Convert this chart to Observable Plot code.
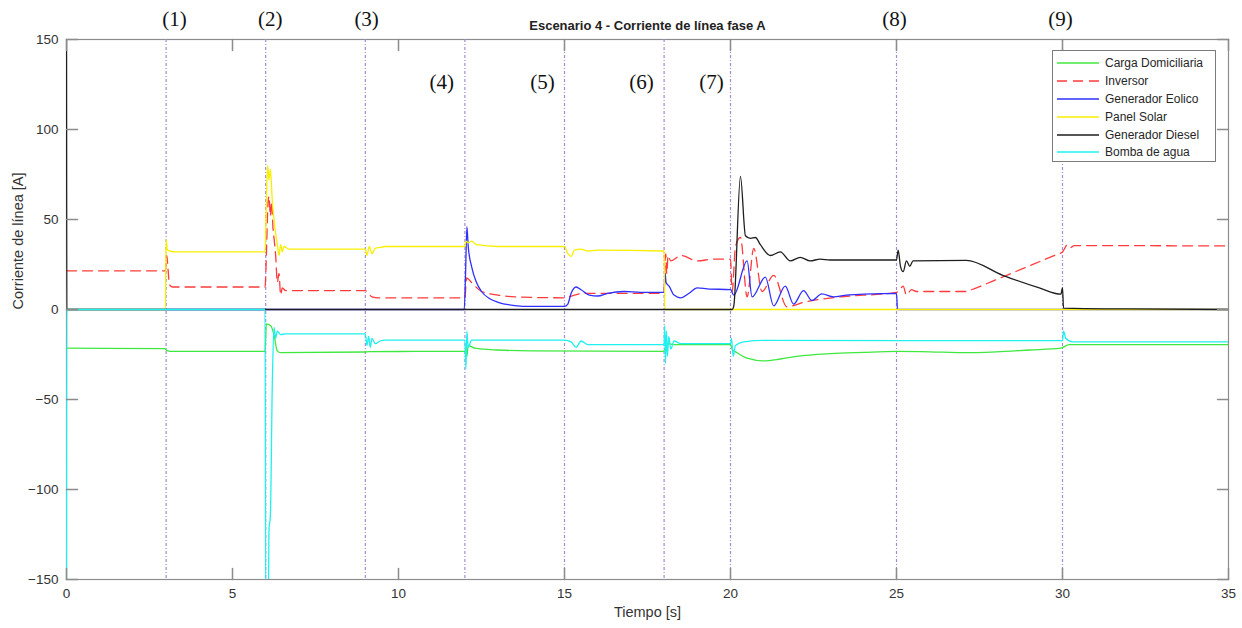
<!DOCTYPE html>
<html>
<head>
<meta charset="utf-8">
<script src="https://cdn.jsdelivr.net/npm/d3@7"></script>
<script src="https://cdn.jsdelivr.net/npm/@observablehq/plot@0.6"></script>
<style>
  body { margin: 0; background: #fff; }
  #wrap { position: relative; width: 1242px; height: 628px; font-family: "Liberation Sans", Arial, sans-serif; }
  #legend { position: absolute; left: 1052px; top: 50px; width: 164px; height: 112px; box-sizing: border-box;
            border: 1px solid #7c7c7c; background: #fff; padding-top: 3px; }
  .row { display: flex; align-items: center; height: 17.9px; font-size: 12px; color: #262626; white-space: nowrap; }
  .row svg { margin-left: 4px; margin-right: 6px; }
</style>
</head>
<body>
<div id="wrap"></div>
<script>
// Axis ticks and event markers
const timeTicks = [0, 5, 10, 15, 20, 25, 30, 35];
const currentTicks = [-150, -100, -50, 0, 50, 100, 150];
const eventTimes = [3, 6, 9, 12, 15, 18, 20, 25, 30];
const eventLabels = ["(1)", "(2)", "(3)", "(4)", "(5)", "(6)", "(7)", "(8)", "(9)"];
const eventLabelTime = [3.25, 6.14, 9.04, 11.3, 14.34, 17.32, 19.43, 24.94, 29.94];
const eventLabelRow = ["top", "top", "top", "low", "low", "low", "low", "top", "top"];

// Series: [time s, current A]
const cargaDomiciliaria = [
  [0, -21.5], [2.95, -21.7], [3.05, -23], [3.2, -23.3], [5.98, -23.3], [6.02, -8], [6.15, -9], [6.25, -14],
  [6.35, -23], [6.45, -24], [9, -23.6], [9.1, -23.4], [12, -23.2], [12.03, -22], [12.06, -26], [12.1, -20],
  [12.3, -21.5], [13, -22.5], [14, -23], [17.98, -23.3], [18.02, -22], [18.1, -19], [18.3, -19.5], [20, -19.5],
  [20.05, -22], [20.2, -24], [20.5, -27], [21, -28.5], [21.5, -27.5], [22, -26], [23, -24.5], [24, -23.8],
  [25, -23.3], [26, -23.5], [27, -24], [28, -23.5], [29, -22.5], [29.95, -21.5], [30.2, -19.5], [35, -19.5]
];
const inversor = [
  [0, 21.5], [2.98, 21.5], [3.02, 30], [3.06, 22], [3.1, 14], [3.2, 12.5], [5.98, 12.5], [6.02, 30], [6.06, 55],
  [6.1, 63], [6.14, 52], [6.18, 60], [6.22, 45], [6.26, 38], [6.3, 30], [6.35, 15], [6.4, 20], [6.45, 8],
  [6.5, 12], [6.6, 10.5], [9, 10.5], [9.1, 9], [9.2, 7], [9.4, 6.5], [12, 6.5], [12.05, 17.5], [12.2, 15],
  [12.5, 10], [13, 8], [13.5, 7], [15, 6.5], [15.3, 8], [15.6, 9], [18, 9], [18.02, 22], [18.05, 31],
  [18.08, 20], [18.12, 30], [18.2, 27], [18.5, 30], [19, 27], [19.5, 28], [20, 28], [20.05, 10], [20.15, 35],
  [20.3, 40], [20.5, 7], [20.7, 34], [20.95, 10], [21.3, 19], [21.7, 1.5], [22.2, 4], [23.3, 7], [24.8, 9],
  [25, 9.5], [25.1, 11], [25.2, 13], [25.3, 8], [25.45, 11], [25.6, 10], [27.1, 10], [27.2, 10.6], [28, 16.6],
  [29, 24.2], [29.8, 30.4], [30, 32], [30.15, 36], [30.25, 34.5], [30.35, 35.5], [35, 35.3]
];
const generadorEolico = [
  [0, 0], [11.98, 0], [12.02, 20], [12.06, 46], [12.1, 35], [12.2, 24], [12.35, 15], [12.5, 10], [12.75, 6],
  [13, 4], [13.5, 2.2], [14, 1.7], [15, 1.7], [15.1, 3], [15.2, 9], [15.35, 12.5], [15.5, 11], [15.75, 8],
  [16, 7.5], [16.3, 9], [16.8, 10], [17.3, 9.5], [18, 9.5], [18.03, 20], [18.06, 15], [18.15, 13], [18.3, 8],
  [18.5, 6.5], [18.75, 9], [19, 12], [19.3, 11.5], [20, 11], [20.1, 8], [20.5, 27], [20.65, 7], [21.05, 18],
  [21.3, 2], [21.65, 13], [21.9, 3], [22.2, 10.5], [22.45, 5], [22.75, 8.7], [23.1, 7], [23.5, 8], [24, 8.5],
  [25, 9], [25.03, 0], [35, 0]
];
const panelSolar = [
  [0, 0], [2.98, 0], [3.0, 39], [3.04, 33], [3.1, 32.5], [3.3, 32], [5.98, 32], [6.02, 60], [6.06, 80],
  [6.1, 72], [6.14, 78], [6.2, 60], [6.25, 50], [6.3, 42], [6.35, 36], [6.4, 30], [6.45, 36], [6.5, 32],
  [6.55, 35], [6.7, 33.5], [9, 33.5], [9.05, 30], [9.12, 35], [9.2, 31], [9.3, 34], [9.45, 34.5], [9.6, 35],
  [12, 35], [12.03, 38], [12.1, 37], [12.2, 38], [12.35, 36], [13, 35], [15, 35], [15.1, 31], [15.2, 29.5],
  [15.3, 33], [15.5, 33.5], [15.7, 32.5], [16, 33], [18, 32.5], [18.02, 0], [35, 0]
];
const generadorDiesel = [
  [0, 165], [0.01, 0], [20.05, 0], [20.1, 2], [20.3, 74], [20.45, 41], [20.6, 39.5], [20.75, 40], [20.9, 36],
  [21.2, 30], [21.5, 32], [21.8, 27], [22.1, 29], [22.4, 27], [22.7, 28], [23, 27.5], [25, 27.5], [25.05, 33],
  [25.12, 24], [25.2, 21], [25.3, 27], [25.4, 24], [25.5, 27], [27.1, 27.3], [28.2, 19], [29.3, 12],
  [29.95, 8.5], [30, 12], [30.03, 0.8], [32, 0.3], [35, 0]
];
const bombaDeAgua = [
  [0, -160], [0.01, 0], [5.98, 0], [6.0, -160], [6.08, -160], [6.1, -122], [6.14, -115], [6.2, -40],
  [6.25, -10], [6.3, -16], [6.35, -12], [6.45, -14], [6.6, -13.5], [9, -13.5], [9.05, -20], [9.1, -15],
  [9.15, -21], [9.2, -16], [9.3, -19], [9.45, -17.5], [9.6, -17], [12, -17], [12.03, -33], [12.06, -12],
  [12.1, -21], [12.2, -17], [15, -17], [15.2, -18], [15.35, -21], [15.5, -17.5], [15.7, -19.5], [18, -19.5],
  [18.02, -9], [18.04, -30], [18.07, -12], [18.1, -26], [18.14, -15], [18.2, -22], [18.3, -17.5], [18.5, -19],
  [20, -19], [20.03, -16], [20.08, -26], [20.15, -20], [20.4, -18], [21, -17.2], [30, -17.3], [30.03, -12],
  [30.1, -16], [30.3, -18], [35, -18]
];

const seriesNames = ["Carga Domiciliaria", "Inversor", "Generador Eolico", "Panel Solar", "Generador Diesel", "Bomba de agua"];
const seriesColors = ["#3fe83f", "#ff3b3b", "#2f2fff", "#f7ef00", "#1e1e1e", "#1ff0f0"];
const seriesDash = [null, "10,6", null, null, null, null];
const seriesData = [cargaDomiciliaria, inversor, generadorEolico, panelSolar, generadorDiesel, bombaDeAgua];

// Inward tick shape used on all four sides of the box
const tickShape = { draw(ctx, l) { ctx.moveTo(0, 0); ctx.lineTo(0, -l); } };
const frameGray = "#8c8c8c";

const lines = seriesData.map((data, i) => Plot.line(data, {
  x: d => d[0], y: d => d[1], stroke: seriesColors[i], strokeWidth: 1.3,
  strokeDasharray: seriesDash[i] ?? undefined, clip: true, curve: "monotone-x"
}));

const events = eventLabels.map((label, i) => ({ label, t: eventLabelTime[i], row: eventLabelRow[i] }));

const chart = Plot.plot({
  width: 1242,
  height: 628,
  marginLeft: 66,
  marginRight: 14,
  marginTop: 39,
  marginBottom: 49,
  style: { fontFamily: "'Liberation Sans', Arial, sans-serif", fontSize: "13px", color: "#333", background: "#fff" },
  x: { domain: [0, 35] },
  y: { domain: [-150, 150] },
  marks: [
    Plot.frame({ stroke: frameGray, strokeWidth: 1.2 }),
    Plot.ruleX(eventTimes, { stroke: "#a28ad2", strokeWidth: 1.2, strokeDasharray: "3,2,1,2" }),
    ...lines,
    Plot.vector(timeTicks, { x: d => d, frameAnchor: "bottom", length: 11, anchor: "start", rotate: 0, shape: tickShape, stroke: frameGray }),
    Plot.vector(timeTicks, { x: d => d, frameAnchor: "top", length: 11, anchor: "start", rotate: 180, shape: tickShape, stroke: frameGray }),
    Plot.vector(currentTicks, { y: d => d, frameAnchor: "left", length: 11, anchor: "start", rotate: 90, shape: tickShape, stroke: frameGray }),
    Plot.vector(currentTicks, { y: d => d, frameAnchor: "right", length: 11, anchor: "start", rotate: -90, shape: tickShape, stroke: frameGray }),
    Plot.axisX(timeTicks, { tickSize: 0, tickPadding: 9, label: null, fontSize: 13.5 }),
    Plot.axisY(currentTicks, { tickSize: 0, tickPadding: 8, label: null, fontSize: 13.5 }),
    Plot.text(["Tiempo [s]"], { frameAnchor: "bottom", dy: 37, fontSize: 14.5, fill: "#333" }),
    Plot.text(["Corriente de línea [A]"], { frameAnchor: "left", dx: -48, rotate: -90, fontSize: 14.5, fill: "#333" }),
    Plot.text(["Escenario 4 - Corriente de línea fase A"], { frameAnchor: "top", dy: -19, fontSize: 13, fontWeight: "bold", fill: "#222" }),
    Plot.text(events.filter(d => d.row === "top"), { x: "t", text: "label", frameAnchor: "top", dy: -28,
      fontFamily: "'Liberation Serif', 'Times New Roman', serif", fontSize: 21, fill: "#111" }),
    Plot.text(events.filter(d => d.row === "low"), { x: "t", text: "label", frameAnchor: "top", dy: 35,
      fontFamily: "'Liberation Serif', 'Times New Roman', serif", fontSize: 21, fill: "#111" })
  ]
});

const wrap = document.getElementById("wrap");
wrap.appendChild(chart);

// Legend box in the upper right corner of the axes
const legend = document.createElement("div");
legend.id = "legend";
seriesNames.forEach((name, i) => {
  const row = document.createElement("div");
  row.className = "row";
  const dash = seriesDash[i] ? `stroke-dasharray="${seriesDash[i]}"` : "";
  row.innerHTML = `<svg width="42" height="6"><line x1="0" y1="3" x2="42" y2="3" stroke="${seriesColors[i]}" stroke-width="1.4" ${dash}/></svg><span>${name}</span>`;
  legend.appendChild(row);
});
wrap.appendChild(legend);
</script>
</body>
</html>
